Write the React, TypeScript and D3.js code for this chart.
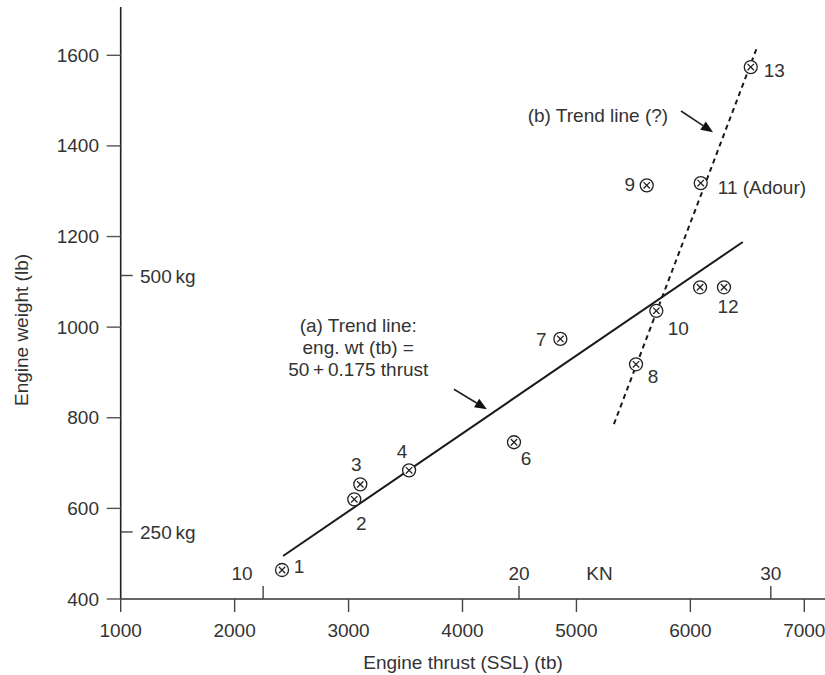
import React from "react";
import * as d3 from "d3";

// ---- data (lb units) ----
const pointIds = ["1", "2", "3", "4", "6", "7", "8", "10", "12a", "12b", "9", "11", "13"];
const thrustLb = [2416, 3050, 3103, 3531, 4452, 4859, 5523, 5701, 6085, 6295, 5617, 6091, 6530];
const weightLb = [464, 620, 653, 684, 746, 974, 918, 1036, 1088, 1088, 1313, 1318, 1574];

const xTicks = [1000, 2000, 3000, 4000, 5000, 6000, 7000];
const yTicks = [400, 600, 800, 1000, 1200, 1400, 1600];
const kNTickLabels = ["10", "20", "30"];
const kNTickLb = [2250, 4496, 6706];
const kgTickLabels = ["250\u2009kg", "500\u2009kg"];
const kgTickLb = [548, 1114];

// trend lines (endpoints in data units)
const trendA = [[2425, 495], [6460, 1188]];
const trendB = [[5329, 786], [6583, 1616]];

// ---- layout (pixel offsets, styles) ----
const W = 825, H = 675;
const labelLayout: Record<string, { text: string; dx: number; dy: number; anchor: string }> = {
  "1": { text: "1", dx: 17, dy: -4, anchor: "middle" },
  "2": { text: "2", dx: 7, dy: 24, anchor: "middle" },
  "3": { text: "3", dx: -4, dy: -20, anchor: "middle" },
  "4": { text: "4", dx: -7, dy: -19, anchor: "middle" },
  "6": { text: "6", dx: 12, dy: 16, anchor: "middle" },
  "7": { text: "7", dx: -19, dy: 1, anchor: "middle" },
  "8": { text: "8", dx: 17, dy: 12, anchor: "middle" },
  "10": { text: "10", dx: 22, dy: 18, anchor: "middle" },
  "12b": { text: "12", dx: 4, dy: 19, anchor: "middle" },
  "9": { text: "9", dx: -17, dy: -1, anchor: "middle" },
  "11": { text: "11 (Adour)", dx: 17, dy: 4, anchor: "start" },
  "13": { text: "13", dx: 13, dy: 3, anchor: "start" },
};

const FONT = "'Liberation Sans', Arial, sans-serif";
const TXT = "#333";
const FS = 19;

export default function App() {
  const x = d3.scaleLinear().domain([1000, 7000]).range([120.7, 804.3]);
  const y = d3.scaleLinear().domain([400, 1600]).range([599, 55.3]);
  const line = d3.line<number[]>().x((d) => x(d[0])).y((d) => y(d[1]));

  const arrowA = [[3925, 863], [4214, 819]];
  const arrowB = [[5918, 1477], [6199, 1430]];

  const arrow = (a: number[][], key: string) => {
    const x1 = x(a[0][0]), y1 = y(a[0][1]), x2 = x(a[1][0]), y2 = y(a[1][1]);
    const ang = Math.atan2(y2 - y1, x2 - x1);
    const L = 12, Wd = 5;
    const bx = x2 - L * Math.cos(ang), by = y2 - L * Math.sin(ang);
    const px = -Math.sin(ang) * Wd, py = Math.cos(ang) * Wd;
    return (
      <g key={key}>
        <line x1={x1} y1={y1} x2={bx} y2={by} stroke="#222" strokeWidth={1.6} />
        <path d={`M${x2},${y2}L${bx + px},${by + py}L${bx - px},${by - py}Z`} fill="#111" />
      </g>
    );
  };

  return (
    <svg width={W} height={H} style={{ position: "absolute", left: 0, top: 0, background: "#fff" }} fontFamily={FONT}>
      <rect width={W} height={H} fill="#fff" />
      {/* axes */}
      <line x1={x(1000)} y1={7} x2={x(1000)} y2={y(400)} stroke="#222" strokeWidth={1.6} />
      <line x1={x(1000)} y1={y(400)} x2={825} y2={y(400)} stroke="#333" strokeWidth={1.6} />
      {xTicks.map((t) => (
        <g key={"xt" + t}>
          <line x1={x(t)} x2={x(t)} y1={y(400)} y2={y(400) + 13} stroke="#444" strokeWidth={1.4} />
          <text x={x(t)} y={630} textAnchor="middle" dominantBaseline="central" fontSize={FS} fill={TXT}>{t}</text>
        </g>
      ))}
      {yTicks.map((t) => (
        <g key={"yt" + t}>
          <line x1={x(1000) - 14} x2={x(1000)} y1={y(t)} y2={y(t)} stroke="#555" strokeWidth={1.4} />
          <text x={99} y={y(t)} textAnchor="end" dominantBaseline="central" fontSize={FS} fill={TXT}>{t}</text>
        </g>
      ))}
      {kNTickLb.map((t, i) => (
        <g key={"kn" + i}>
          <line x1={x(t)} x2={x(t)} y1={y(400)} y2={y(400) - 13} stroke="#444" strokeWidth={1.4} />
          <text x={x(t) + (i === 0 ? -21 : 0)} y={573} textAnchor="middle" dominantBaseline="central" fontSize={FS} fill={TXT}>{kNTickLabels[i]}</text>
        </g>
      ))}
      <text x={x(5203)} y={573} textAnchor="middle" dominantBaseline="central" fontSize={FS} fill={TXT}>KN</text>
      {kgTickLb.map((t, i) => (
        <g key={"kg" + i}>
          <line x1={x(1000)} x2={x(1000) + 12} y1={y(t)} y2={y(t)} stroke="#444" strokeWidth={1.4} />
          <text x={140} y={y(t) + 1} textAnchor="start" dominantBaseline="central" fontSize={FS} fill={TXT}>{kgTickLabels[i]}</text>
        </g>
      ))}
      {/* axis titles */}
      <text x={463} y={662} textAnchor="middle" dominantBaseline="central" fontSize={FS} fill={TXT}>Engine thrust (SSL) (tb)</text>
      <text transform={`translate(21,330) rotate(-90)`} textAnchor="middle" dominantBaseline="central" fontSize={FS} fill={TXT}>Engine weight (lb)</text>

      {/* trend lines */}
      <path d={line(trendA) || ""} stroke="#1a1a1a" strokeWidth={2} fill="none" />
      <path d={line(trendB) || ""} stroke="#1a1a1a" strokeWidth={2} fill="none" strokeDasharray="5,4" />

      {/* arrows */}
      {arrow(arrowA, "aa")}
      {arrow(arrowB, "ab")}

      {/* annotations */}
      <text x={x(3085)} y={y(989)} textAnchor="middle" fontSize={FS} fill={TXT}>
        <tspan x={x(3085)} dy={0}>(a) Trend line:</tspan>
        <tspan x={x(3085)} dy={22}>eng. wt (tb) =</tspan>
        <tspan x={x(3085)} dy={22}>{"50\u2009+\u20090.175 thrust"}</tspan>
      </text>
      <text x={x(5805)} y={y(1452)} textAnchor="end" fontSize={FS} fill={TXT}>(b) Trend line (?)</text>

      {/* points */}
      {pointIds.map((id, i) => {
        const cx = x(thrustLb[i]), cy = y(weightLb[i]);
        const r = 6.5, c = 3.2;
        const lab = labelLayout[id];
        return (
          <g key={"p" + id}>
            <circle cx={cx} cy={cy} r={r} fill="#fff" stroke="#222" strokeWidth={1.3} />
            <line x1={cx - c} y1={cy - c} x2={cx + c} y2={cy + c} stroke="#222" strokeWidth={1.3} />
            <line x1={cx - c} y1={cy + c} x2={cx + c} y2={cy - c} stroke="#222" strokeWidth={1.3} />
            {lab && (
              <text x={cx + lab.dx} y={cy + lab.dy} textAnchor={lab.anchor} dominantBaseline="central" fontSize={FS} fill={TXT}>{lab.text}</text>
            )}
          </g>
        );
      })}
    </svg>
  );
}
